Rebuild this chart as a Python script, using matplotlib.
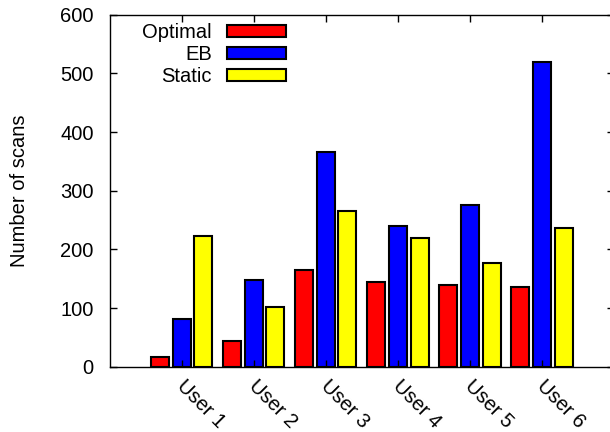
import numpy as np
import matplotlib.pyplot as plt
from matplotlib.transforms import ScaledTranslation

plt.rcParams['font.family'] = ['Liberation Sans', 'DejaVu Sans']

# scans per user for each strategy
users = ['User 1', 'User 2', 'User 3', 'User 4', 'User 5', 'User 6']
optimal = [17, 44, 164, 144, 139, 136]
eb = [82, 147, 366, 239, 275, 519]
static = [223, 101, 266, 220, 177, 236]

x = np.arange(1, len(users) + 1)
w = 0.25
off = 0.3
fs = 14.5

fig = plt.figure(figsize=(6.1, 4.32), dpi=100)
ax = fig.add_axes([109.5 / 610, 1 - 366.7 / 432, 504.7 / 610, 352 / 432])

ax.bar(x - off, optimal, w, color='#ff0000', edgecolor='black', linewidth=1.5, label='Optimal')
ax.bar(x, eb, w, color='#0000ff', edgecolor='black', linewidth=1.5, label='EB')
ax.bar(x + off, static, w, color='#ffff00', edgecolor='black', linewidth=1.5, label='Static')

ax.set_xlim(0, 7)
ax.set_ylim(0, 600)
ax.set_yticks(range(0, 601, 100))
ax.set_xticks(x)
ax.set_xticklabels([])
ax.tick_params(direction='in', length=5, width=1, labelsize=fs, top=True, right=True)
ax.tick_params(axis='y', pad=11.5)
for s in ax.spines.values():
    s.set_linewidth(1.0)

# rotated user labels, placed a bit right of and below each tick
lab_tr = ax.get_xaxis_transform() + ScaledTranslation(0.05, -0.1, fig.dpi_scale_trans)
for xi, name in zip(x, users):
    ax.text(xi, 0, name, transform=lab_tr, fontsize=fs, rotation=-45,
            ha='left', va='top', rotation_mode='anchor')

ax.set_ylabel('Number of scans', fontsize=fs)
ax.yaxis.set_label_coords(-80.5 / 504.7, 0.5)

ax.legend(loc='upper right', bbox_to_anchor=(285.5 / 610, 1 - 23 / 432),
          bbox_transform=fig.transFigure, frameon=False, fontsize=fs,
          markerfirst=False, handlelength=2.9, handleheight=0.5,
          handletextpad=0.75, labelspacing=0.15, borderpad=0, borderaxespad=0)

fig.savefig('out.png', dpi=100)
